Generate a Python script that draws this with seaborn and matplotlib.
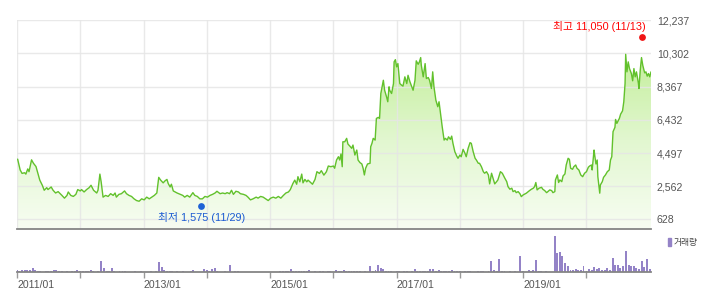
import numpy as np
import pandas as pd
import matplotlib
matplotlib.use("Agg")
import matplotlib.pyplot as plt
import matplotlib.transforms as mtransforms
import seaborn as sns
from matplotlib.colors import LinearSegmentedColormap
from matplotlib.patches import Rectangle

# ---------------- data ----------------
price_t = [
    2011.01, 2011.05, 2011.08, 2011.12, 2011.14, 2011.17, 2011.19, 2011.23, 2011.26, 2011.30,
    2011.33, 2011.36, 2011.40, 2011.43, 2011.47, 2011.49, 2011.54, 2011.57, 2011.61, 2011.65,
    2011.71, 2011.75, 2011.79, 2011.81, 2011.85, 2011.89, 2011.93, 2011.96, 2012.00, 2012.02,
    2012.06, 2012.10, 2012.14, 2012.17, 2012.21, 2012.26, 2012.28, 2012.31, 2012.33, 2012.35,
    2012.36, 2012.40, 2012.44, 2012.48, 2012.52, 2012.55, 2012.57, 2012.61, 2012.65, 2012.70,
    2012.73, 2012.77, 2012.81, 2012.85, 2012.89, 2012.93, 2012.97, 2013.01, 2013.05, 2013.09,
    2013.13, 2013.17, 2013.21, 2013.24, 2013.27, 2013.31, 2013.34, 2013.37, 2013.39, 2013.42,
    2013.44, 2013.47, 2013.50,
    2013.53, 2013.58, 2013.62, 2013.65, 2013.69, 2013.73, 2013.78, 2013.81, 2013.85, 2013.89,
    2013.93, 2013.97, 2014.01, 2014.05, 2014.09, 2014.13, 2014.16, 2014.21, 2014.25, 2014.29,
    2014.32, 2014.36, 2014.39, 2014.42, 2014.46, 2014.50, 2014.53, 2014.58, 2014.62, 2014.65,
    2014.69, 2014.73, 2014.78, 2014.81, 2014.85, 2014.89, 2014.93, 2014.97, 2015.01, 2015.05,
    2015.09, 2015.13, 2015.17, 2015.21, 2015.25, 2015.29, 2015.32, 2015.36, 2015.39, 2015.42,
    2015.44, 2015.47, 2015.50, 2015.52, 2015.55, 2015.58, 2015.60, 2015.63, 2015.67, 2015.71,
    2015.74, 2015.78, 2015.81, 2015.85, 2015.89,
    2015.92, 2015.96, 2016.00, 2016.02, 2016.05, 2016.08, 2016.10, 2016.12, 2016.14, 2016.15,
    2016.18, 2016.21, 2016.23, 2016.26, 2016.29, 2016.31, 2016.34, 2016.37, 2016.39, 2016.42,
    2016.45, 2016.47, 2016.49, 2016.51, 2016.54, 2016.58, 2016.59, 2016.61, 2016.63, 2016.66,
    2016.68, 2016.71, 2016.73, 2016.75, 2016.77, 2016.79, 2016.81, 2016.84, 2016.86, 2016.88,
    2016.89, 2016.92, 2016.95, 2016.96, 2016.98, 2017.00, 2017.02, 2017.05, 2017.08, 2017.10,
    2017.13, 2017.16, 2017.18, 2017.21, 2017.24, 2017.26, 2017.29, 2017.31, 2017.34, 2017.36,
    2017.38, 2017.39, 2017.42, 2017.45, 2017.47, 2017.50, 2017.52, 2017.55, 2017.57, 2017.59,
    2017.62, 2017.65, 2017.67, 2017.70, 2017.72, 2017.75, 2017.77, 2017.80, 2017.82, 2017.85,
    2017.87, 2017.89, 2017.92, 2017.95, 2017.97, 2018.00, 2018.02, 2018.05, 2018.08, 2018.10,
    2018.13, 2018.16, 2018.18, 2018.21, 2018.24, 2018.26, 2018.29, 2018.31, 2018.34, 2018.37,
    2018.39,
    2018.42, 2018.45, 2018.47, 2018.50, 2018.52, 2018.55, 2018.58, 2018.60, 2018.64, 2018.67,
    2018.71, 2018.74, 2018.76, 2018.79, 2018.82, 2018.84, 2018.87, 2018.89, 2018.92, 2018.95,
    2018.97, 2019.00, 2019.03, 2019.05, 2019.08, 2019.10, 2019.13, 2019.16, 2019.18, 2019.20,
    2019.22, 2019.25, 2019.29, 2019.31, 2019.34, 2019.37, 2019.39, 2019.42, 2019.45, 2019.47,
    2019.50, 2019.51, 2019.54, 2019.56, 2019.58, 2019.61, 2019.63, 2019.66, 2019.68, 2019.71,
    2019.73, 2019.75, 2019.78, 2019.80, 2019.83, 2019.85, 2019.88, 2019.91, 2019.94, 2019.97,
    2020.00, 2020.03, 2020.05, 2020.08, 2020.09, 2020.12, 2020.13, 2020.15, 2020.17, 2020.18,
    2020.21, 2020.22, 2020.25, 2020.27, 2020.30, 2020.33, 2020.36, 2020.38, 2020.40, 2020.42,
    2020.45, 2020.46, 2020.48, 2020.52, 2020.54, 2020.57, 2020.59, 2020.61, 2020.62, 2020.64,
    2020.66, 2020.68, 2020.71, 2020.73, 2020.75, 2020.77, 2020.79, 2020.82, 2020.83, 2020.85,
    2020.87, 2020.89, 2020.92, 2020.94, 2020.96, 2020.98, 2021.00, 2021.02,
]
price_v = [
    4140, 3510, 3310, 3350, 3270, 3570, 3410, 4100, 3900, 3710,
    3310, 2920, 2620, 2330, 2480, 2370, 2520, 2330, 2170, 2250,
    2030, 1870, 2030, 2230, 2030, 1970, 2090, 2370, 2290, 2370,
    2230, 2370, 2480, 2620, 2330, 2170, 2330, 3270, 2820, 2230,
    1930, 2030, 1970, 2130, 2030, 2170, 1930, 2090, 2130, 2290,
    2130, 2030, 1970, 1830, 1730, 1690, 1830, 1770, 1930, 1830,
    1930, 2030, 2170, 3080, 2920, 2760, 2880, 2960, 2720, 2520,
    2680, 2290, 2230,
    2170, 2090, 2030, 1930, 2030, 1930, 2190, 2030, 1970, 1830,
    1830, 1970, 1930, 2030, 2090, 2170, 2270, 2130, 2170, 2130,
    2190, 2130, 2330, 2090, 2270, 2230, 2130, 2090, 2030, 1930,
    1770, 1830, 1930, 1870, 1970, 1930, 1830, 1730, 1870, 1930,
    1870, 1970, 1870, 2030, 2170, 2230, 2370, 2720, 2920, 2680,
    3120, 2820, 3270, 2760, 2960, 2820, 2920, 2820, 2680, 2960,
    3410, 3310, 3470, 3210, 3410,
    3740, 3700, 3740, 3610, 4090, 4280, 4090, 4440, 3700, 5150,
    5150, 5350, 5020, 4900, 4770, 4960, 4380, 4670, 4090, 3940,
    3860, 3610, 3220, 3610, 3860, 3900, 4860, 5060, 5350, 5250,
    6510, 6570, 6510, 7960, 8350, 8730, 8150, 7770, 7480, 8350,
    8150, 7960, 8540, 9800, 9930, 9510, 9700, 8540, 8440, 8390,
    8930, 8540, 9020, 8640, 8350, 8150, 8730, 9860, 9660, 9800,
    10050, 9600, 8930, 9700, 8830, 8890, 8730, 8250, 9220, 8350,
    7570, 7190, 7480, 6610, 6030, 5250, 5350, 5250, 5440, 5290,
    5480, 5060, 4570, 4320, 4190, 4380, 4280, 4710, 4480, 4280,
    4770, 5100, 5060, 4570, 4190, 4090, 3900, 3900, 3700, 3410,
    3320,
    3410, 3220, 2700, 3320, 3080, 2700, 2830, 2930, 3410, 3320,
    3030, 2830, 2540, 2390, 2450, 2250, 2310, 2190, 2250, 2120,
    1960, 2060, 2120, 2160, 2250, 2310, 2390, 2450, 2540, 2780,
    2350, 2450, 2500, 2390, 2310, 2190, 2250, 2350, 2310, 2190,
    2250, 2930, 3220, 2780, 2930, 2830, 3160, 3280, 3800, 4190,
    4130, 3610, 3550, 3700, 3800, 3610, 3510, 3220, 3120, 3320,
    3410, 3670, 3740, 3800, 3510, 4670, 4380, 3860, 4090, 3120,
    2160, 2640, 2830, 3080, 3220, 3410, 3510, 4090, 4280, 5740,
    5990, 6450, 6220, 6510, 6760, 6950, 7480, 8540, 10240, 9220,
    9800, 9410, 9120, 8700, 9410, 8930, 9220, 8580, 8250, 9320,
    10050, 9600, 9160, 9220, 8970, 9120, 8930, 9220,
]

# semi-monthly trading volume (thousand shares), starting 2011-01-01
volume_start = "2011-01-01"
volume = [
    200, 150, 200, 200, 200, 250, 400, 200, 100, 100,
    0, 150, 150, 150, 250, 200, 100, 100, 0, 100,
    0, 100, 100, 200, 100, 100, 100, 100, 200, 150,
    0, 100, 1100, 400, 100, 100, 400, 100, 0, 100,
    100, 100, 0, 0, 0, 100, 0, 100, 0, 0,
    0, 100, 0, 100, 1000, 500, 200, 150, 150, 150,
    0, 100, 0, 100, 0, 0, 150, 200, 0, 0,
    0, 300, 200, 100, 350, 400, 100, 0, 0, 100,
    0, 700, 0, 100, 100, 0, 0, 0, 0, 0,
    0, 0, 0, 0, 0, 0, 0, 0, 0, 0,
    100, 100, 100, 100, 300, 150, 150, 100, 100, 100,
    100, 200, 0, 100, 0, 100, 100, 0, 100, 100,
    0, 200, 150, 150, 200, 150, 100, 100, 150, 100,
    100, 0, 100, 0, 600, 100, 200, 700, 400, 300,
    150, 150, 150, 0, 150, 100, 0, 100, 100, 0,
    100, 300, 100, 100, 100, 100, 150, 300, 300, 150,
    200, 150, 100, 100, 100, 200, 100, 100, 100, 0,
    100, 150, 100, 0, 0, 100, 100, 100, 0, 100,
    1100, 200, 100, 1300, 100, 100, 0, 100, 0, 100,
    0, 1600, 100, 0, 200, 100, 200, 1200, 150, 100,
    0, 100, 0, 0, 3600, 1900, 2000, 1600, 900, 600,
    200, 200, 300, 200, 200, 600, 100, 300, 200, 500,
    300, 400, 200, 200, 400, 200, 1400, 700, 700, 400,
    600, 2100, 700, 600, 600, 400, 300, 1100, 500, 1300,
    300,
]

price_ticks = [628, 2562, 4497, 6432, 8367, 10302, 12237]
year_ticks = [2011, 2012, 2013, 2014, 2015, 2016, 2017, 2018, 2019, 2020]
year_labels = ["2011/01", "", "2013/01", "", "2015/01", "", "2017/01", "", "2019/01", ""]

high_t, high_v, high_label = 2020.87, 11050, "최고 11,050 (11/13)"
low_t, low_v, low_label = 2013.91, 1575, "최저 1,575 (11/29)"
volume_label = "거래량"

# ---------------- style ----------------
sns.set_theme(style="white")
plt.rcParams["font.family"] = ["Liberation Sans", "Noto Sans CJK KR"]

LINE = "#62c12c"
BAR = "#9483c7"
GRID = "#e6e6e6"
TICKTXT = "#555555"

W, H = 714, 307
fig = plt.figure(figsize=(W / 100, H / 100), dpi=100)
fig.patch.set_facecolor("white")

x0, x1 = 17, 651
ax = fig.add_axes([x0 / W, 1 - 229 / H, (x1 - x0) / W, (229 - 20) / H])
axv = fig.add_axes([x0 / W, 1 - 272 / H, (x1 - x0) / W, 43 / H])

XMIN, XMAX = 2011.0, 2021.02
YBOT = 75

# gradient area under the price line
poly = ax.fill_between(price_t, price_v, YBOT, color="none", lw=0)
path = poly.get_paths()[0]
grad = np.linspace(0, 1, 256).reshape(-1, 1)
cmap = LinearSegmentedColormap.from_list("g", ["#f7fdf2", "#e2f7d0", "#c3ee9a"])
im = ax.imshow(grad, extent=[XMIN, XMAX, YBOT, 10400], origin="lower",
               aspect="auto", cmap=cmap, zorder=1, interpolation="bilinear")
im.set_clip_path(path, transform=ax.transData)

# grid
for yv in price_ticks:
    ax.axhline(yv, color=GRID, lw=1.0, zorder=1.5, alpha=0.85)
for xv in year_ticks:
    ax.axvline(xv, color=GRID, lw=1.0, zorder=1.5, alpha=0.85)

price_df = pd.DataFrame({"t": price_t, "price": price_v})
sns.lineplot(data=price_df, x="t", y="price", ax=ax, color=LINE, lw=1.0, zorder=3,
             estimator=None, sort=False)

ax.set_xlim(XMIN, XMAX)
ax.set_ylim(YBOT, 12237)
ax.set_xticks([])
ax.yaxis.tick_right()
ax.set_yticks(price_ticks)
ax.set_yticklabels([f"{v:,}" for v in price_ticks])
ax.tick_params(axis="y", length=0, pad=4.3, labelsize=7.6, labelcolor=TICKTXT)
ax.set_xlabel("")
ax.set_ylabel("")
for s in ["top", "left", "right"]:
    ax.spines[s].set_visible(False)
ax.spines["bottom"].set_color("#858585")
ax.spines["bottom"].set_linewidth(1.3)
ax.spines["bottom"].set_zorder(5)

# high / low markers (drawn slightly off the value, as in the source chart)
up3 = mtransforms.offset_copy(ax.transData, fig=fig, x=0, y=3, units="dots")
dn3 = mtransforms.offset_copy(ax.transData, fig=fig, x=0, y=-3, units="dots")
ax.scatter([high_t], [high_v], s=24, color="#f01414", zorder=6, linewidths=0,
           clip_on=False, transform=up3)
ax.scatter([low_t], [low_v], s=24, color="#1f62d6", zorder=6, linewidths=0,
           clip_on=False, transform=dn3)
ax.annotate(high_label, xy=(high_t, high_v), xytext=(4, 14), textcoords="offset pixels",
            ha="right", va="center", fontsize=7.8, color="#ff0000", zorder=7)
ax.annotate(low_label, xy=(low_t, low_v), xytext=(0, -14), textcoords="offset pixels",
            ha="center", va="center", fontsize=7.8, color="#1a5ad2", zorder=7)

# volume
vol_dates = pd.date_range(volume_start, periods=len(volume), freq="SMS")
vol_t = np.array([d.year + (d.dayofyear - 1) / (366 if d.is_leap_year else 365) for d in vol_dates])
axv.bar(vol_t, volume, width=(1 / 24) * 0.72, color=BAR, linewidth=0)
axv.set_xlim(XMIN, XMAX)
axv.set_ylim(0, 4300)
axv.set_yticks([])
axv.set_ylabel("")
axv.set_xlabel("")
axv.set_xticks(year_ticks)
axv.set_xticklabels(year_labels, ha="left")
axv.tick_params(axis="x", length=4, width=1, color="#9a9a9a", pad=1.5,
                labelsize=7.6, labelcolor=TICKTXT, direction="out", bottom=True)
for s in ["top", "left", "right"]:
    axv.spines[s].set_visible(False)
axv.spines["bottom"].set_color("#858585")
axv.spines["bottom"].set_linewidth(1.3)
axv.patch.set_alpha(0)

# volume legend
fig.patches.append(Rectangle((668 / W, 1 - 246 / H), 3 / W, 8 / H,
                             transform=fig.transFigure, color=BAR, figure=fig))
fig.text(674 / W, 1 - 242 / H, volume_label, fontsize=6.3, color="#444444",
         ha="left", va="center")

fig.savefig("out.png", dpi=100, facecolor="white")
